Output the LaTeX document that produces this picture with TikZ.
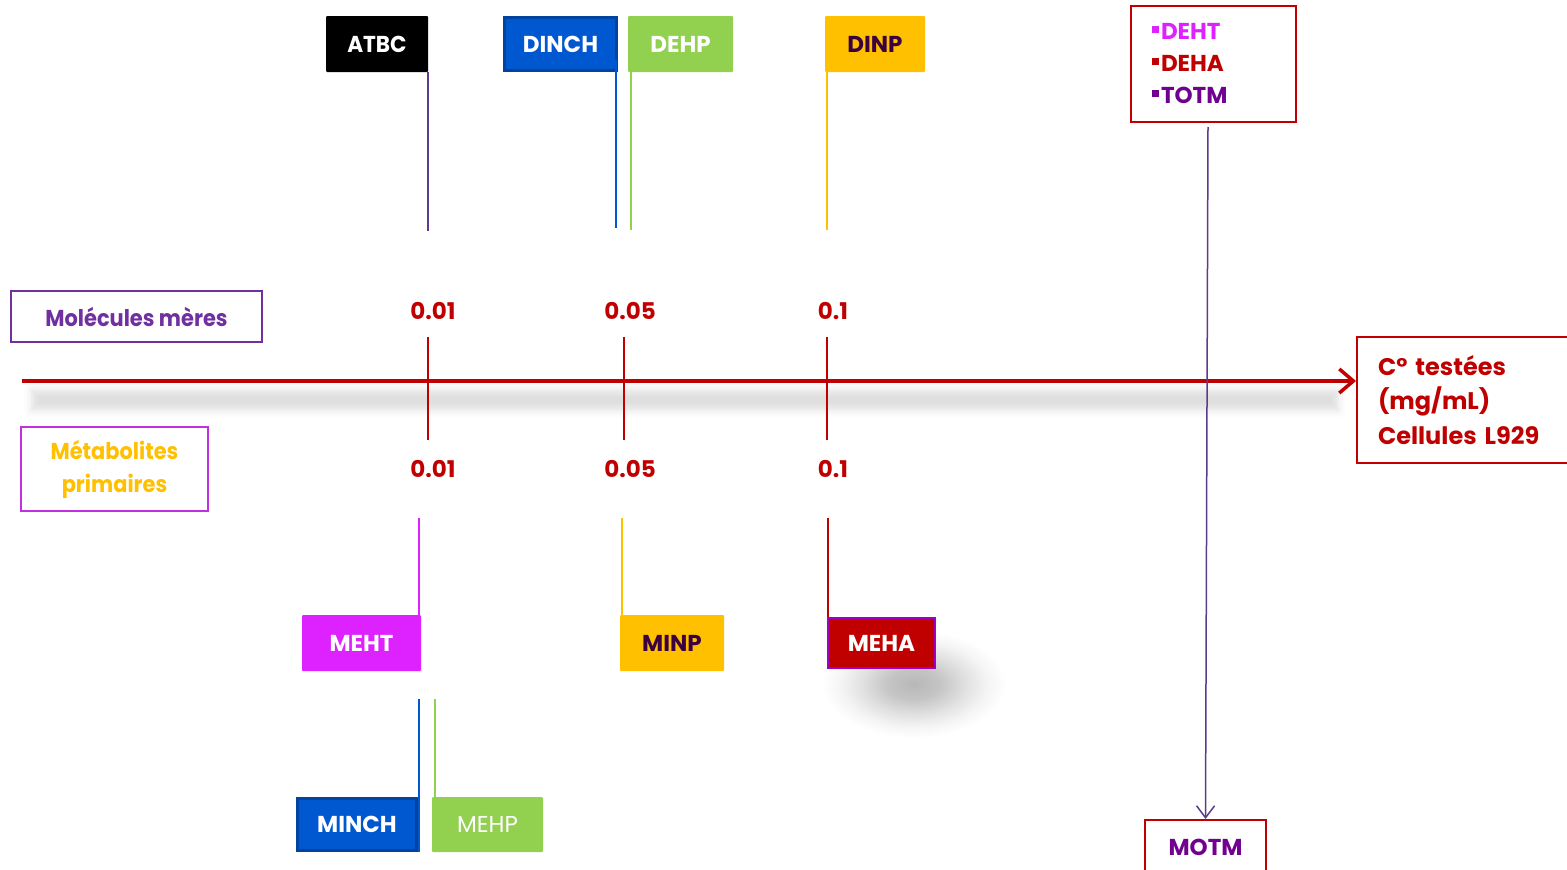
\documentclass[tikz,border=0pt]{standalone}
\usepackage{fontspec}
\usepackage{graphicx}
\setmainfont{Poppins}
\usetikzlibrary{arrows.meta,shadows.blur}
\definecolor{cred}{HTML}{C00000}
\definecolor{cpurple}{HTML}{7030A0}
\definecolor{cmag}{HTML}{DD22FF}
\definecolor{cmagb}{HTML}{C030E0}
\definecolor{cyel}{HTML}{FFC000}
\definecolor{cgreen}{HTML}{92D050}
\definecolor{cblue}{HTML}{0058D0}
\definecolor{cblueb}{HTML}{0044A0}
\definecolor{cdark}{HTML}{3A0040}
\definecolor{cviolet}{HTML}{700090}
\definecolor{cline}{HTML}{5B3C8C}
\definecolor{cmehab}{HTML}{A000C0}
\pgfdeclareradialshading{softshadow}{\pgfpoint{0bp}{0bp}}{color(0bp)=(black!28); color(7bp)=(black!23); color(14bp)=(black!12); color(20bp)=(black!4); color(25bp)=(white); color(50bp)=(white)}
\newcommand\nrw[2][0.91]{\scalebox{#1}[1]{#2}}
\newcommand\sqb{\rule[7pt]{6.5pt}{6.5pt}\hspace{2.5pt}}
\begin{document}
\begin{tikzpicture}[x=1pt,y=-1pt,
  tag/.style={minimum height=56pt,inner sep=0pt,rounded corners=1pt,
    font=\fontsize{23}{27}\selectfont\bfseries,text=white},
  bluetag/.style={tag,fill=cblue,draw=cblueb,line width=3.5pt,rounded corners=0pt},
  num/.style={font=\fontsize{23}{27}\selectfont\bfseries,text=cred},
  frame/.style={draw=cred,line width=2pt,fill=white,inner sep=0pt},
  axisline/.style={draw=cred,line width=4pt,-{Straight Barb[length=14pt,width=24pt,line width=3.5pt]}},
  tick/.style={draw=cred,line width=1.5pt},
  stem/.style={line width=1.5pt}
]
\useasboundingbox (0,0) rectangle (1567,870);
% shadows
\shade[shading=softshadow] (914,684) ellipse (92pt and 54pt);
\path[blur shadow={shadow xshift=0pt,shadow yshift=-12pt,shadow blur radius=8pt,shadow opacity=13}] (32,378) rectangle (1338,398);
% top tags
\node[tag,fill=black,minimum width=102pt] (atbc) at (377,44) {\nrw[0.94]{ATBC}};
\node[bluetag,minimum width=112pt,minimum height=53pt] (dinch) at (560.5,44) {DINCH};
\node[tag,fill=cgreen,minimum width=105pt] (dehp) at (680.5,44) {DEHP};
\node[tag,fill=cyel,text=cdark,minimum width=100pt] (dinp) at (875,44) {DINP};
\coordinate (a1) at (428,231);
\coordinate (d1) at (616,228);
\coordinate (e1) at (631,230);
\coordinate (p1) at (827,230);
\draw[stem,cline] (a1 |- atbc.south) -- (a1);
\draw[stem,cblue] (616,60) -- (d1);
\draw[stem,cgreen] (e1 |- dehp.south) -- (e1);
\draw[stem,cyel] (p1 |- dinp.south) -- (p1);
% left labels
\node[draw=cpurple,line width=1.5pt,minimum width=251pt,minimum height=51pt,inner sep=0pt,
  font=\fontsize{23}{27}\selectfont\bfseries,text=cpurple] (mol) at (136.5,316.5) {\nrw{Molécules mères}};
\node[draw=cmagb,line width=1.5pt,minimum width=187pt,minimum height=84pt,inner sep=0pt,align=center,
  font=\fontsize{23}{33}\selectfont\bfseries,text=cyel] (met) at (114.5,469) {\nrw{Métabolites}\\\nrw{primaires}};
% right box
\node[frame,anchor=north west,minimum height=126pt,text width=192pt,inner xsep=21pt,align=left,
  font=\fontsize{24}{34.5}\selectfont\bfseries,text=cred] (ctest) at (1356,336) {C° testées\\(mg/mL)\\Cellules L929};
% axis
\coordinate (ax0) at (22,381);
\draw[axisline] (ax0) -- (ctest.west |- ax0);
% ticks
\coordinate (t1a) at (428,337); \coordinate (t1b) at (428,440);
\coordinate (t2a) at (624,337); \coordinate (t2b) at (624,440);
\coordinate (t3a) at (827,337); \coordinate (t3b) at (827,440);
\draw[tick] (t1a) -- (t1b);
\draw[tick] (t2a) -- (t2b);
\draw[tick] (t3a) -- (t3b);
\node[num] (n1) at (433,311) {0.01};
\node[num] (n2) at (630,311) {0.05};
\node[num] (n3) at (833,311) {0.1};
\node[num] (m1n) at (433,469) {0.01};
\node[num] (m2n) at (630,469) {0.05};
\node[num] (m3n) at (833,469) {0.1};
% top right list
\node[frame,minimum width=165pt,minimum height=116pt,text width=123pt,inner xsep=21pt,align=left,
  font=\fontsize{23}{32}\selectfont\bfseries] (ttr) at (1213.5,64)
  {\textcolor{cmag}{\sqb DEHT}\\\textcolor{cred}{\sqb DEHA}\\\textcolor{cviolet}{\sqb TOTM}};
\node[frame,minimum width=121pt,minimum height=54pt,font=\fontsize{23}{27}\selectfont\bfseries,text=cviolet] (motm) at (1205.5,847) {MOTM};
\coordinate (ar0) at (1208,127);
\draw[cline,line width=1.5pt,-{Straight Barb[length=12pt,width=18pt,line width=1.5pt]}] (ar0) -- (motm.north);
% bottom tags
\node[tag,fill=cmag,minimum width=119pt] (meht) at (361.5,643) {MEHT\hspace{8pt}};
\node[tag,fill=cyel,text=cdark,minimum width=104pt] (minp) at (672,643) {MINP};
\node[tag,fill=cred,draw=cmehab,line width=2pt,rounded corners=0pt,minimum width=107pt,minimum height=50pt] (meha) at (881.5,643) {MEHA};
\node[bluetag,minimum width=119pt,minimum height=52pt] (minch) at (357,824.5) {MINCH};
\node[tag,fill=cgreen,minimum width=111pt,minimum height=55pt,font=\fontsize{23}{27}\selectfont] (mehp) at (487.5,824.5) {MEHP\hspace{5pt}};
\coordinate (b1) at (419,518);
\coordinate (b2) at (622,518);
\coordinate (b3) at (828,518);
\coordinate (c1) at (419,699);
\coordinate (c2) at (435,699);
\draw[stem,cmag] (b1) -- (b1 |- meht.north);
\draw[stem,cyel] (b2) -- (b2 |- minp.north);
\draw[stem,cred] (b3) -- (b3 |- meha.north);
\draw[stem,cblue] (c1) -- (c1 |- minch.south);
\draw[stem,cgreen] (c2) -- (c2 |- mehp.north);
\end{tikzpicture}
\end{document}
